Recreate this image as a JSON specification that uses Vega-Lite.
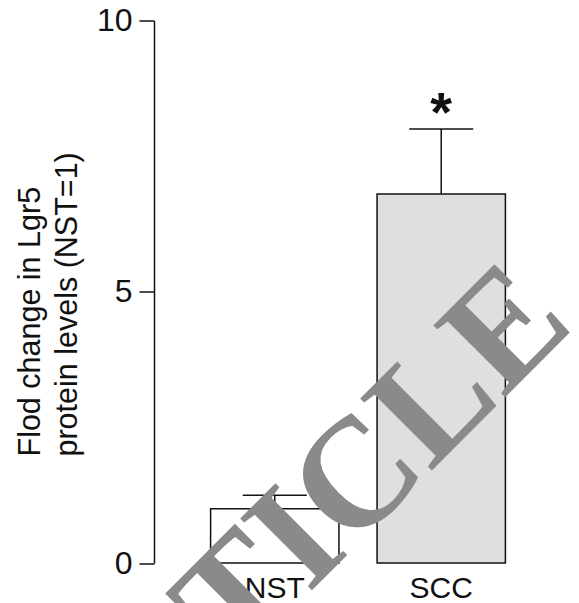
{
  "$schema": "https://vega.github.io/schema/vega-lite/v6.json",
  "autosize": "none",
  "width": 408,
  "height": 542.5,
  "padding": {"left": 154, "top": 20.5, "right": 17, "bottom": 40},
  "background": "white",
  "config": {"view": {"stroke": null}, "font": "Liberation Sans"},
  "data": {
    "values": [
      {"group": "NST", "value": 1.0, "upper": 1.25, "sig": ""},
      {"group": "SCC", "value": 6.8, "upper": 8.0, "sig": "*"}
    ]
  },
  "encoding": {
    "x": {
      "field": "group",
      "type": "nominal",
      "sort": ["NST", "SCC"],
      "scale": {"paddingInner": 0.229, "paddingOuter": 0.34},
      "axis": {
        "title": null,
        "domain": false,
        "ticks": false,
        "labelAngle": 0,
        "labelFontSize": 30,
        "labelColor": "#111111",
        "labelPadding": 10
      }
    }
  },
  "layer": [
    {
      "mark": {"type": "rule", "stroke": "#111111", "strokeWidth": 1.5},
      "encoding": {
        "y": {"field": "value", "type": "quantitative"},
        "y2": {"field": "upper"}
      }
    },
    {
      "mark": {"type": "bar", "stroke": "#111111", "strokeWidth": 1.5},
      "encoding": {
        "y": {
          "field": "value",
          "type": "quantitative",
          "scale": {"domain": [0, 10], "nice": false},
          "axis": {
            "values": [0, 5, 10],
            "grid": false,
            "domainColor": "#111111",
            "domainWidth": 1.5,
            "tickColor": "#111111",
            "tickWidth": 1.5,
            "tickSize": 15,
            "labelFontSize": 32,
            "labelColor": "#111111",
            "labelPadding": 7,
            "title": ["Flod change in Lgr5", "protein levels (NST=1)"],
            "titleFontSize": 30.5,
            "titleFontWeight": "normal",
            "titleColor": "#111111",
            "titleLineHeight": 37,
            "titleAlign": "left",
            "titleAngle": -90,
            "titleBaseline": "bottom",
            "titleX": -108.5,
            "titleY": 435.5
          }
        },
        "fill": {
          "field": "group",
          "type": "nominal",
          "scale": {"domain": ["NST", "SCC"], "range": ["#ffffff", "#dfdfdf"]},
          "legend": null
        }
      }
    },
    {
      "mark": {"type": "tick", "size": 64, "thickness": 1.5, "color": "#111111", "opacity": 1},
      "encoding": {"y": {"field": "upper", "type": "quantitative"}}
    },
    {
      "mark": {"type": "text", "fontSize": 56, "fontWeight": "bold", "baseline": "alphabetic", "dy": 2, "color": "#111111"},
      "encoding": {
        "y": {"field": "upper", "type": "quantitative"},
        "text": {"field": "sig"}
      }
    },
    {
      "data": {"values": [{"label": "ARTICLE", "group": "SCC"}]},
      "mark": {
        "type": "text",
        "font": "Liberation Serif",
        "fontWeight": "bold",
        "fontSize": 155,
        "angle": -45,
        "align": "right",
        "baseline": "alphabetic",
        "dx": 191,
        "color": "#8a8a8a"
      },
      "encoding": {
        "x": {"field": "group", "type": "nominal"},
        "y": {"datum": 1.88},
        "text": {"field": "label"}
      }
    }
  ]
}
